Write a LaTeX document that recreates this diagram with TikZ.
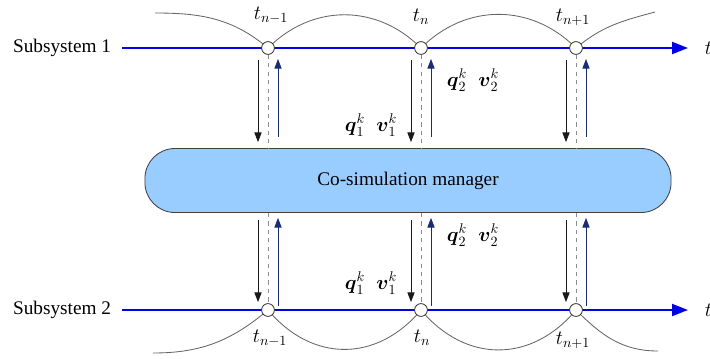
\documentclass[tikz,border=0pt]{standalone}
\usepackage{amsmath,amssymb}
\usepackage{fontspec}
\setmainfont{Liberation Serif}
\usepackage{xcolor}
\usetikzlibrary{arrows.meta,positioning,calc}
\definecolor{mgrfill}{RGB}{153,204,255}
\definecolor{navyarr}{RGB}{25,45,115}
\tikzset{
  axis/.style={draw={rgb,255:red,0;green,0;blue,235}, line width=1.4pt,
    -{Triangle[length=4mm,width=3mm]}},
  tick/.style={circle, draw=black!80, fill=white, line width=0.6pt,
    inner sep=0pt, minimum size=3.2mm},
  mgr/.style={draw=black!75, fill=mgrfill, rounded corners=7.5mm,
    minimum width=13.15cm, minimum height=1.6cm, line width=0.6pt,
    font=\fontsize{13.7}{16}\selectfont},
  lbl/.style={font=\fontsize{13.7}{16}\selectfont},
  arcl/.style={draw=black!60, line width=0.6pt},
  dn/.style={-{Triangle[length=2.4mm,width=1.8mm]}, black!90, line width=0.6pt},
  up/.style={-{Triangle[length=2.4mm,width=1.8mm]}, navyarr, line width=0.6pt},
  sync/.style={dashed, black!45, line width=0.6pt}
}
\begin{document}
\begin{tikzpicture}[x=0.025cm, y=0.025cm]
  \useasboundingbox (0,0) rectangle (710,358);

  % time points of both subsystems
  \coordinate (c1) at (268,310);
  \coordinate (c2) at (421,310);
  \coordinate (c3) at (576,310);
  \coordinate (d1) at (268,48);
  \coordinate (d2) at (421,48);
  \coordinate (d3) at (576,48);

  % subsystem 1 axis
  \coordinate (s1) at (122,310);
  \coordinate (e1) at (688,310);
  \node[lbl, left=1.5mm of s1] (sub1) {Subsystem 1};
  \node[lbl, right=3mm of e1] (tend1) {$t$};
  \draw[axis] (s1) -- (e1);
  \draw[arcl] (c1) to[out=140,in=0] (155,345);
  \draw[arcl] (c1) to[out=45,in=135,looseness=1.05] (c2);
  \draw[arcl] (c2) to[out=45,in=135,looseness=1.05] (c3);
  \draw[arcl] (c3) to[out=40,in=195] (655,346);

  % subsystem 2 axis
  \coordinate (s2) at (122,48);
  \coordinate (e2) at (688,48);
  \node[lbl, left=1.5mm of s2] (sub2) {Subsystem 2};
  \node[lbl, right=3mm of e2] (tend2) {$t$};
  \draw[axis] (s2) -- (e2);
  \draw[arcl] (d1) to[out=-140,in=0] (153,5);
  \draw[arcl] (d1) to[out=-50,in=-130,looseness=1.15] (d2);
  \draw[arcl] (d2) to[out=-50,in=-130,looseness=1.15] (d3);
  \draw[arcl] (d3) to[out=-45,in=180] (658,7);

  % manager
  \node[mgr] (mgr) at (408,177.5) {Co-simulation manager};

  % circles
  \node[tick] (a1) at (c1) {};
  \node[tick] (a2) at (c2) {};
  \node[tick] (a3) at (c3) {};
  \node[tick] (b1) at (d1) {};
  \node[tick] (b2) at (d2) {};
  \node[tick] (b3) at (d3) {};

  % time labels
  \node[lbl] (ta1) at ($(a1)+(3,33)$) {$t_{n-1}$};
  \node[lbl] (ta2) at ($(a2)+(0,31)$) {$t_{n}$};
  \node[lbl] (ta3) at ($(a3)+(-3,31)$) {$t_{n+1}$};
  \node[lbl] (tb1) at ($(b1)+(2,-28)$) {$t_{n-1}$};
  \node[lbl] (tb2) at ($(b2)+(1,-28)$) {$t_{n}$};
  \node[lbl] (tb3) at ($(b3)+(-3,-30)$) {$t_{n+1}$};

  % exchange with subsystem 1
  \draw[sync] (a1.south) -- (a1 |- mgr.north);
  \draw[sync] (a2.south) -- (a2 |- mgr.north);
  \draw[sync] (a3.south) -- (a3 |- mgr.north);
  \draw[dn] ($(a1)+(-10,-12)$) -- ($(a1 |- mgr.north)+(-10,6)$);
  \draw[dn] ($(a2)+(-10,-12)$) -- ($(a2 |- mgr.north)+(-10,6)$);
  \draw[dn] ($(a3)+(-10,-12)$) -- ($(a3 |- mgr.north)+(-10,6)$);
  \draw[up] ($(a1 |- mgr.north)+(10,11)$) -- ($(a1)+(10,-11)$);
  \draw[up] ($(a2 |- mgr.north)+(10,11)$) -- ($(a2)+(10,-11)$);
  \draw[up] ($(a3 |- mgr.north)+(10,11)$) -- ($(a3)+(10,-11)$);

  % exchange with subsystem 2
  \draw[sync] (mgr.south -| b1) -- (b1.north);
  \draw[sync] (mgr.south -| b2) -- (b2.north);
  \draw[sync] (mgr.south -| b3) -- (b3.north);
  \draw[dn] ($(mgr.south -| b1)+(-10,-7)$) -- ($(b1)+(-10,8)$);
  \draw[dn] ($(mgr.south -| b2)+(-10,-7)$) -- ($(b2)+(-10,8)$);
  \draw[dn] ($(mgr.south -| b3)+(-10,-7)$) -- ($(b3)+(-10,8)$);
  \draw[up] ($(b1)+(10,4)$) -- ($(mgr.south -| b1)+(10,-5)$);
  \draw[up] ($(b2)+(10,4)$) -- ($(mgr.south -| b2)+(10,-5)$);
  \draw[up] ($(b3)+(10,4)$) -- ($(mgr.south -| b3)+(10,-5)$);

  % exchanged states
  \node[lbl] (qa1) at (371,233) {$\boldsymbol{q}_1^k\;\;\boldsymbol{v}_1^k$};
  \node[lbl] (qa2) at (473,278) {$\boldsymbol{q}_2^k\;\;\boldsymbol{v}_2^k$};
  \node[lbl] (qb2) at (473,123) {$\boldsymbol{q}_2^k\;\;\boldsymbol{v}_2^k$};
  \node[lbl] (qb1) at (371,75) {$\boldsymbol{q}_1^k\;\;\boldsymbol{v}_1^k$};
\end{tikzpicture}
\end{document}
